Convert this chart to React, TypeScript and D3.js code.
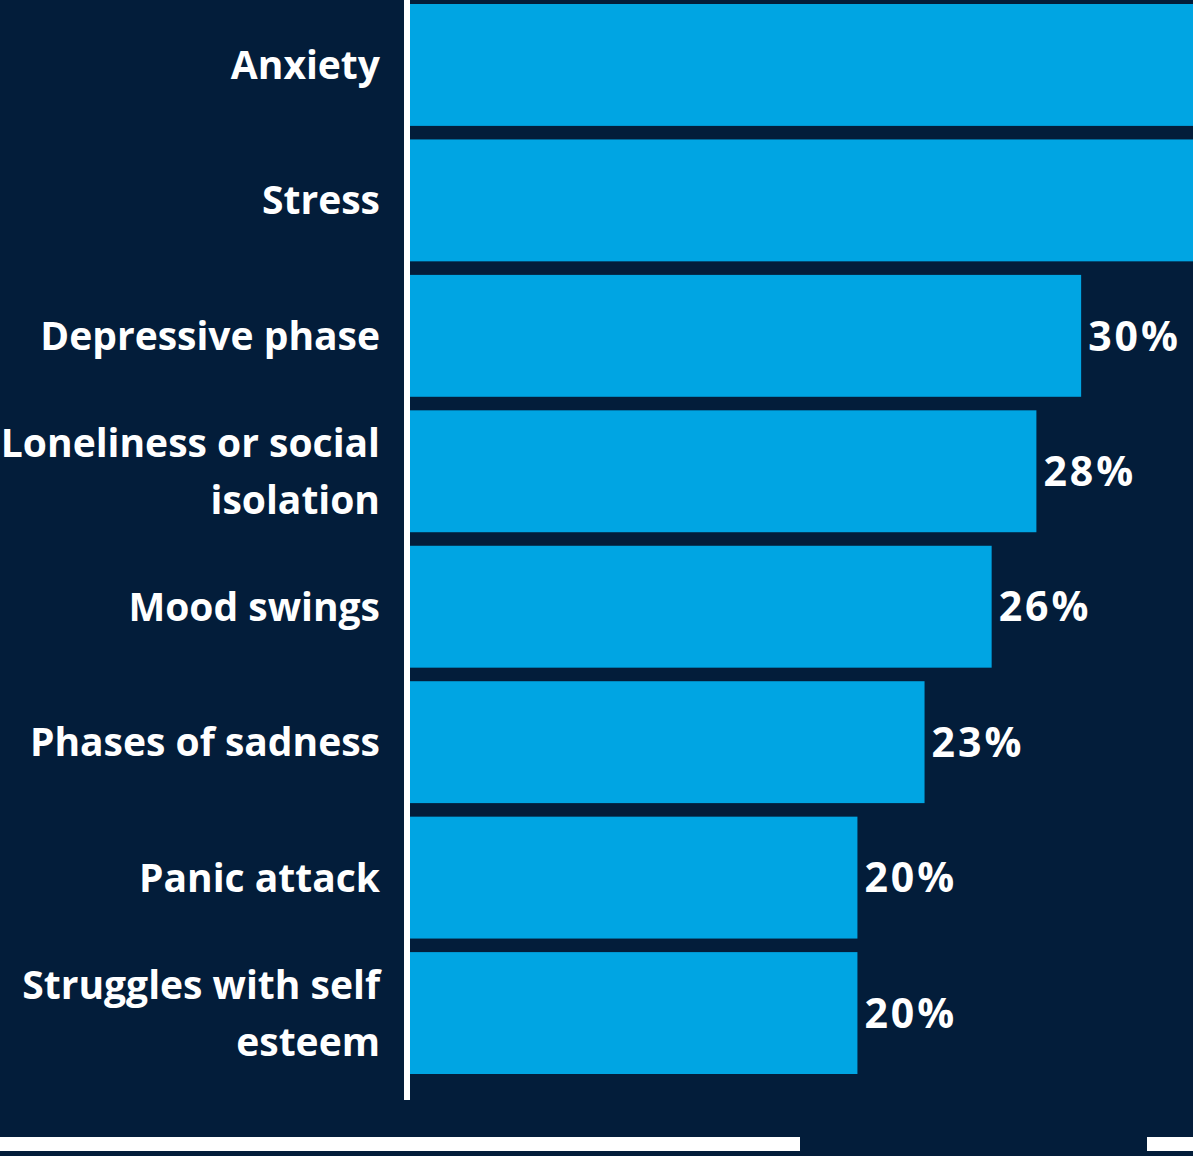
import React from "react";
import * as d3 from "d3";

const categories: string[][] = [
  ["Anxiety"],
  ["Stress"],
  ["Depressive phase"],
  ["Loneliness or social", "isolation"],
  ["Mood swings"],
  ["Phases of sadness"],
  ["Panic attack"],
  ["Struggles with self", "esteem"],
];
const values: number[] = [41, 39, 30, 28, 26, 23, 20, 20];
const valueLabels: string[] = ["41%", "39%", "30%", "28%", "26%", "23%", "20%", "20%"];

const W = 1193;
const H = 1156;
const BG = "#031d3a";
const BAR = "#00a5e3";
const FONT = "'Open Sans', Lato, sans-serif";

export default function App() {
  const x = d3.scaleLinear().domain([0, 35]).range([410, W]);
  const y = d3
    .scaleBand<number>()
    .domain(d3.range(categories.length))
    .range([4, 1074])
    .paddingInner(0.1)
    .paddingOuter(0);
  const bw = y.bandwidth();
  const lineH = 57;

  return (
    <svg
      width={W}
      height={H}
      style={{ position: "absolute", left: 0, top: 0, display: "block" }}
    >
      <rect x={0} y={0} width={W} height={H} fill={BG} />
      {values.map((v, i) => {
        const y0 = y(i)!;
        const cy = y0 + bw / 2;
        const lines = categories[i];
        const lx = x(v) + 7;
        return (
          <g key={i}>
            <rect x={x(0)} y={y0} width={Math.min(x(v), W) - x(0)} height={bw} fill={BAR} />
            {lx < W - 60 && (
              <text
                x={lx}
                y={cy}
                dy="0.36em"
                fill="#fff"
                fontFamily={FONT}
                fontWeight={700}
                fontSize={41}
                letterSpacing={3}
              >
                {valueLabels[i]}
              </text>
            )}
            {lines.map((ln, j) => (
              <text
                key={j}
                x={380}
                y={cy + (j - (lines.length - 1) / 2) * lineH}
                dy="0.36em"
                textAnchor="end"
                fill="#fff"
                fontFamily={FONT}
                fontWeight={700}
                fontSize={39}
              >
                {ln}
              </text>
            ))}
          </g>
        );
      })}
      <rect x={404} y={0} width={6} height={1100} fill="#fff" />
      <rect x={0} y={1137} width={800} height={14} fill="#fff" />
      <rect x={1147} y={1137} width={W - 1147} height={14} fill="#fff" />
    </svg>
  );
}
